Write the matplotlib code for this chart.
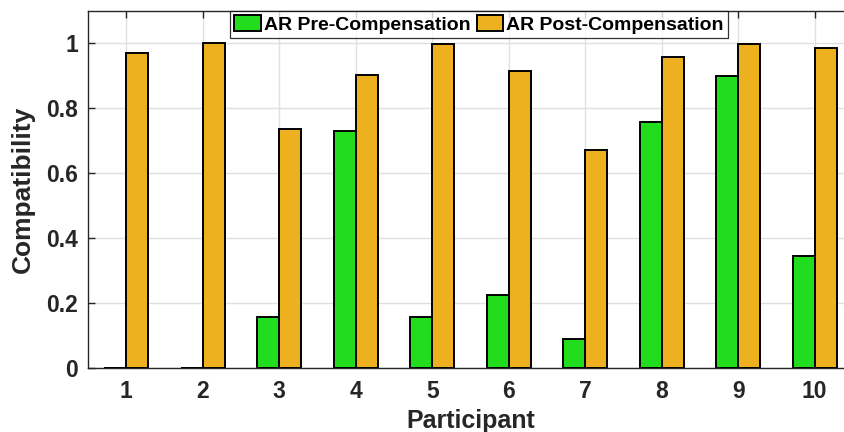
import matplotlib
matplotlib.use("Agg")
import matplotlib.pyplot as plt
import numpy as np

participants = [1, 2, 3, 4, 5, 6, 7, 8, 9, 10]
pre_comp = [0.0, 0.0, 0.155, 0.730, 0.155, 0.225, 0.088, 0.757, 0.899, 0.345]
post_comp = [0.969, 1.0, 0.735, 0.902, 0.998, 0.915, 0.671, 0.957, 0.997, 0.986]
series_names = ["AR Pre-Compensation", "AR Post-Compensation"]
y_ticks = [0, 0.2, 0.4, 0.6, 0.8, 1]
y_tick_labels = ["0", "0.2", "0.4", "0.6", "0.8", "1"]

plt.rcParams["font.family"] = ["Liberation Sans", "DejaVu Sans"]
plt.rcParams["font.weight"] = "bold"

text_col = "#262626"
green = "#22dd1e"
orange = "#edb120"

fig = plt.figure(figsize=(8.45, 4.32), dpi=100)
ax = fig.add_axes([88 / 845, 64.3 / 432, 765 / 845, 356.7 / 432])

x = np.array(participants, dtype=float)
w = 0.285
ax.bar(x - w / 2, pre_comp, width=w, color=green, edgecolor="black",
       linewidth=1.4, label=series_names[0], zorder=3)
ax.bar(x + w / 2, post_comp, width=w, color=orange, edgecolor="black",
       linewidth=1.4, label=series_names[1], zorder=3)

ax.set_xlim(0.5, 10.5)
ax.set_ylim(0, 1.1)
ax.set_xticks(participants)
ax.set_xticklabels([str(p) for p in participants])
ax.set_yticks(y_ticks)
ax.set_yticklabels(y_tick_labels)

ax.grid(True, color="#e0e0e0", linewidth=1.0, zorder=0)
ax.set_axisbelow(True)
for s in ax.spines.values():
    s.set_color(text_col)
    s.set_linewidth(1.0)

ax.tick_params(axis="both", direction="in", length=5, width=1.0,
               color=text_col, labelcolor=text_col, labelsize=16.5,
               top=True, right=True)
ax.tick_params(axis="x", pad=9)
ax.tick_params(axis="y", pad=7)

ax.set_xlabel("Participant", fontsize=18, fontweight="bold", color=text_col,
              labelpad=4)
ax.set_ylabel("Compatibility", fontsize=19, fontweight="bold",
              color=text_col, labelpad=8)

leg = fig.legend(loc="upper center", bbox_to_anchor=(479 / 845, 1 - 11 / 432),
                 ncol=2, frameon=True, fancybox=False, fontsize=14,
                 handlelength=1.35, handleheight=0.85, handletextpad=0.15,
                 columnspacing=0.35, borderpad=0.22, borderaxespad=0)
leg.get_frame().set_edgecolor("black")
leg.get_frame().set_linewidth(0.9)
for t in leg.get_texts():
    t.set_color("black")
    t.set_fontweight("bold")

fig.savefig("out.png", dpi=100)
